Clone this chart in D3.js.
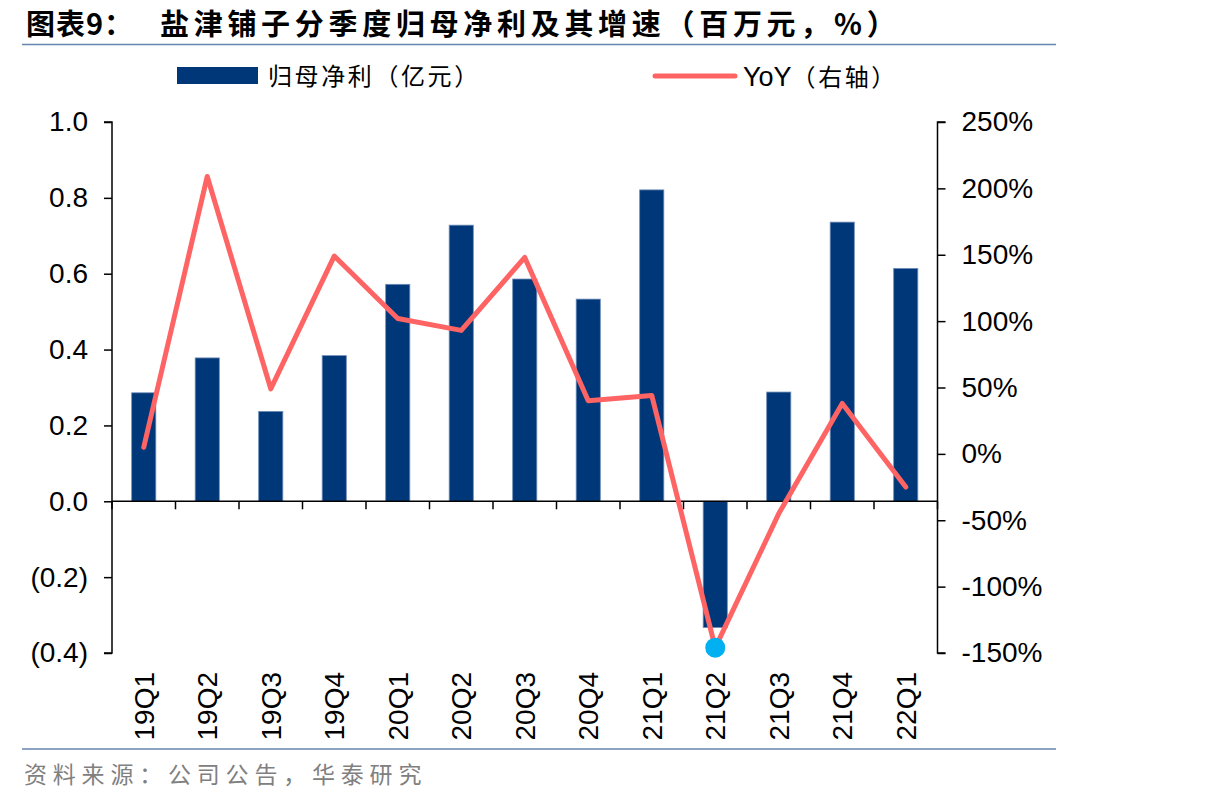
<!DOCTYPE html>
<html>
<head>
<meta charset="utf-8">
<script src="https://cdn.jsdelivr.net/npm/d3@7"></script>
<style>
  body { margin: 0; background: #fff; }
  svg text { font-family: "Liberation Sans", Arial, sans-serif; }
  .cjk { font-family: "Noto Sans CJK SC", sans-serif; }
</style>
</head>
<body>
<div id="chart"></div>
<script>
let quarters = ['19Q1','19Q2','19Q3','19Q4','20Q1','20Q2','20Q3','20Q4','21Q1','21Q2','21Q3','21Q4','22Q1']
let profit = [0.286, 0.378, 0.237, 0.384, 0.572, 0.728, 0.586, 0.533, 0.821, -0.333, 0.288, 0.736, 0.614]
let yoy = [5, 209, 49, 149, 102, 93, 148, 40, 44, -146, -45, 38, -25]
let leftTicks = [1.0, 0.8, 0.6, 0.4, 0.2, 0.0, -0.2, -0.4]
let rightTicks = [250, 200, 150, 100, 50, 0, -50, -100, -150]

let width = 1206, height = 804
let svg = d3.select('#chart').append('svg').attr('width', width).attr('height', height)

// title + rules
svg.append('text').attr('class', 'cjk').attr('x', 26).attr('y', 35)
    .attr('font-size', 29).attr('font-weight', 'bold').attr('fill', '#000')
    .attr('letter-spacing', 1)
    .text('图表9：')
svg.append('text').attr('class', 'cjk').attr('x', 160).attr('y', 35)
    .attr('font-size', 29).attr('font-weight', 'bold').attr('fill', '#000')
    .attr('letter-spacing', 4.7)
    .text('盐津铺子分季度归母净利及其增速（百万元，%）')
svg.append('line').attr('x1', 22).attr('x2', 1056).attr('y1', 44.5).attr('y2', 44.5)
    .attr('stroke', '#6685AE').attr('stroke-width', 1.5)
svg.append('line').attr('x1', 22).attr('x2', 1056).attr('y1', 749).attr('y2', 749)
    .attr('stroke', '#6685AE').attr('stroke-width', 1.5)
svg.append('text').attr('class', 'cjk').attr('x', 24).attr('y', 783)
    .attr('font-size', 23).attr('fill', '#808080').attr('letter-spacing', 5.8)
    .text('资料来源：公司公告，华泰研究')

// legend
svg.append('rect').attr('x', 177).attr('y', 67).attr('width', 81).attr('height', 17).attr('fill', '#003778')
svg.append('text').attr('class', 'cjk').attr('x', 268).attr('y', 85).attr('font-size', 24)
    .attr('letter-spacing', 2.6)
    .text('归母净利（亿元）')
svg.append('line').attr('x1', 655).attr('x2', 735).attr('y1', 76).attr('y2', 76)
    .attr('stroke', '#FF6464').attr('stroke-width', 5).attr('stroke-linecap', 'round')
let yoyLabel = svg.append('text').attr('x', 743).attr('y', 86).attr('font-size', 27)
yoyLabel.append('tspan').text('YoY')
yoyLabel.append('tspan').attr('class', 'cjk').attr('font-size', 24).attr('letter-spacing', 2.6).text('（右轴）')

// scales
let x = d3.scaleBand().domain(quarters).range([112, 937.5]).paddingInner(0.62).paddingOuter(0.31)
let xStep = x.step()
let yL = d3.scaleLinear().domain([-0.4, 1.0]).range([653, 122])
let yR = d3.scaleLinear().domain([-150, 250]).range([653, 122])

// left axis
let leftAxis = d3.axisLeft(yL).tickValues(leftTicks).tickSize(8).tickPadding(16)
    .tickFormat(d => d < 0 ? '(' + Math.abs(d).toFixed(1) + ')' : d.toFixed(1))
let gL = svg.append('g').attr('transform', 'translate(112,0)').call(leftAxis)
gL.selectAll('text').attr('font-size', 28).attr('fill', '#000')
gL.selectAll('line,path').attr('stroke', '#000').attr('stroke-width', 1.5)
gL.select('.domain').attr('d', 'M-8,122H0V653H-8')

// right axis
let rightAxis = d3.axisRight(yR).tickValues(rightTicks).tickSize(8).tickPadding(16)
    .tickFormat(d => d + '%')
let gR = svg.append('g').attr('transform', 'translate(937.5,0)').call(rightAxis)
gR.selectAll('text').attr('font-size', 28).attr('fill', '#000')
gR.selectAll('line,path').attr('stroke', '#000').attr('stroke-width', 1.5)
gR.select('.domain').attr('d', 'M8,122H0V653H8')

// bars
svg.selectAll('rect.bar').data(profit).enter().append('rect').attr('class', 'bar')
    .attr('x', (d, i) => x(quarters[i]))
    .attr('width', x.bandwidth())
    .attr('y', d => Math.min(yL(d), yL(0)))
    .attr('height', d => Math.abs(yL(d) - yL(0)))
    .attr('fill', '#003778')
    .attr('stroke', '#6E8CB8').attr('stroke-width', 0.8)

// x axis at zero
let x0 = yL(0)
svg.append('line').attr('x1', 112).attr('x2', 937.5).attr('y1', x0).attr('y2', x0)
    .attr('stroke', '#000').attr('stroke-width', 1.5)
svg.selectAll('line.xt').data(d3.range(quarters.length + 1)).enter().append('line').attr('class', 'xt')
    .attr('x1', i => 112 + i * xStep).attr('x2', i => 112 + i * xStep)
    .attr('y1', x0).attr('y2', x0 + 8)
    .attr('stroke', '#000').attr('stroke-width', 1.5)

svg.selectAll('text.xl').data(quarters).enter().append('text').attr('class', 'xl')
    .attr('transform', d => `translate(${x(d) + x.bandwidth() / 2 + 10},672) rotate(-90)`)
    .attr('text-anchor', 'end').attr('font-size', 28).attr('fill', '#000')
    .text(d => d)

// yoy line
let line = d3.line().x((d, i) => x(quarters[i]) + x.bandwidth() / 2).y(d => yR(d))
svg.append('path').datum(yoy).attr('d', line)
    .attr('fill', 'none').attr('stroke', '#FF6464').attr('stroke-width', 5)
    .attr('stroke-linejoin', 'round').attr('stroke-linecap', 'round')

// highlighted low point
let lowIdx = yoy.indexOf(d3.min(yoy))
svg.append('circle').attr('cx', x(quarters[lowIdx]) + x.bandwidth() / 2).attr('cy', yR(yoy[lowIdx]))
    .attr('r', 10).attr('fill', '#00B0F0')
</script>
</body>
</html>
